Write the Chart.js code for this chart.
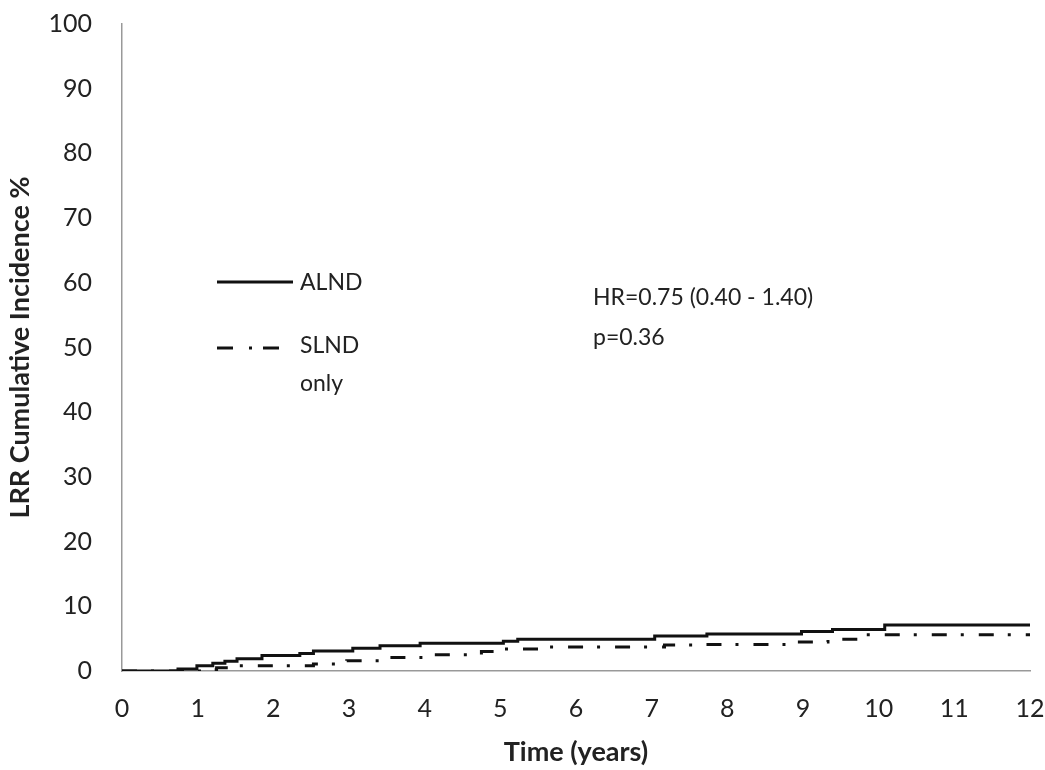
<!DOCTYPE html>
<html>
<head>
<meta charset="utf-8">
<title>LRR Cumulative Incidence</title>
<script src="https://cdn.jsdelivr.net/npm/chart.js@4"></script>
<style>
  html, body { margin: 0; padding: 0; background: #fff; }
  #wrap { position: relative; width: 1045px; height: 770px; font-family: Lato, "Open Sans", sans-serif; color: #222; }
  #chart { position: absolute; left: 0; top: 0; }
  .note { position: absolute; font-size: 23px; line-height: 1; white-space: nowrap; }
  svg.key { position: absolute; left: 0; top: 0; pointer-events: none; }
</style>
</head>
<body>
<div id="wrap">
  <canvas id="chart" width="1045" height="770"></canvas>
  <svg class="key" width="1045" height="770">
    <line x1="217" y1="282" x2="293" y2="282" stroke="#111" stroke-width="3"/>
    <line x1="217" y1="348" x2="233" y2="348" stroke="#111" stroke-width="3"/>
    <line x1="249" y1="348" x2="252" y2="348" stroke="#111" stroke-width="3"/>
    <line x1="263" y1="348" x2="279" y2="348" stroke="#111" stroke-width="3"/>
  </svg>
  <div class="note" style="left:300px; top:270px;">ALND</div>
  <div class="note" style="left:300px; top:333px;">SLND</div>
  <div class="note" style="left:300px; top:371px;">only</div>
  <div class="note" style="left:593px; top:285px;">HR=0.75 (0.40 - 1.40)</div>
  <div class="note" style="left:593px; top:325px;">p=0.36</div>
</div>
<script>
// time in years, cumulative incidence in %
const alndTimes = [0, 0.74, 0.99, 1.2, 1.36, 1.52, 1.85, 2.35, 2.53, 3.05, 3.41, 3.94, 5.04, 5.23, 7.04, 7.73, 8.98, 9.39, 10.08, 12];
const alndValues = [0, 0.3, 0.8, 1.2, 1.5, 1.9, 2.4, 2.7, 3.1, 3.5, 3.9, 4.3, 4.6, 4.9, 5.4, 5.7, 6.1, 6.4, 7.1, 7.1];

const slndTimes = [0, 1.1, 1.25, 1.4, 2.53, 2.97, 3.54, 4.13, 4.75, 5.0, 5.6, 7.17, 7.6, 8.92, 9.33, 9.78, 12];
const slndValues = [0, 0.2, 0.5, 0.8, 1.1, 1.6, 2.1, 2.5, 3.0, 3.4, 3.7, 4.0, 4.1, 4.5, 4.9, 5.6, 5.6];

const xTicks = [0, 1, 2, 3, 4, 5, 6, 7, 8, 9, 10, 11, 12];
const yTicks = [0, 10, 20, 30, 40, 50, 60, 70, 80, 90, 100];

const toPoints = (xs, ys) => xs.map((x, i) => ({ x: x, y: ys[i] }));

const ctx = document.getElementById('chart').getContext('2d');
new Chart(ctx, {
  type: 'line',
  data: {
    datasets: [
      {
        label: 'ALND',
        data: toPoints(alndTimes, alndValues),
        borderColor: '#111',
        borderWidth: 3,
        stepped: 'before',
        pointRadius: 0,
        fill: false
      },
      {
        label: 'SLND only',
        data: toPoints(slndTimes, slndValues),
        borderColor: '#111',
        borderWidth: 3,
        borderDash: [15, 14, 3, 15],
        stepped: 'before',
        pointRadius: 0,
        fill: false
      }
    ]
  },
  options: {
    responsive: false,
    animation: false,
    layout: { padding: { left: 0, right: 15, top: 24, bottom: 0 } },
    plugins: { legend: { display: false }, tooltip: { enabled: false } },
    scales: {
      x: {
        type: 'linear',
        min: 0,
        max: 12,
        afterBuildTicks: (scale) => { scale.ticks = xTicks.map(v => ({ value: v })); },
        afterFit: (scale) => {
          scale.height = 99;
          scale.paddingLeft = 0;
          scale.paddingRight = 0;
        },
        grid: { display: false, drawTicks: false },
        border: { display: true, color: '#999', width: 1.5 },
        ticks: { color: '#222', padding: 23, maxRotation: 0, font: { family: 'Lato', size: 25 } },
        title: { display: true, text: 'Time (years)', color: '#222', padding: { top: 0, bottom: 2 }, font: { family: 'Lato', size: 27, weight: 'bold' } }
      },
      y: {
        min: 0,
        max: 100,
        afterBuildTicks: (scale) => { scale.ticks = yTicks.map(v => ({ value: v })); },
        afterFit: (scale) => {
          scale.width = 122;
          scale.paddingTop = 0;
          scale.paddingBottom = 0;
        },
        grid: { display: false, drawTicks: false },
        border: { display: true, color: '#999', width: 1.5 },
        ticks: { color: '#222', padding: 30, font: { family: 'Lato', size: 25 } },
        title: { display: true, text: 'LRR Cumulative Incidence %', color: '#222', padding: { top: 4, bottom: 0 }, font: { family: 'Lato', size: 27, weight: 'bold' } }
      }
    }
  }
});
</script>
</body>
</html>
